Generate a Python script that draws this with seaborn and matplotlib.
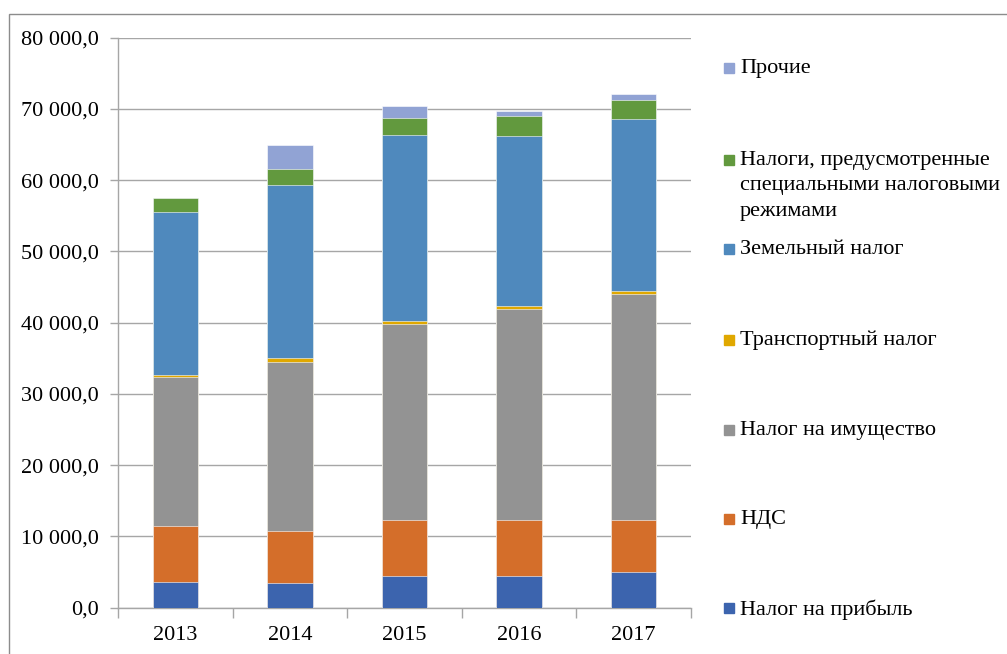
import numpy as np
import pandas as pd
import seaborn as sns
import matplotlib
matplotlib.use("Agg")
import matplotlib.pyplot as plt
from matplotlib.ticker import FuncFormatter, FixedLocator
from matplotlib.patches import Rectangle

years = ["2013", "2014", "2015", "2016", "2017"]

profit = [3650, 3510, 4450, 4450, 5000]
vat = [7810, 7200, 7890, 7890, 7340]
property_tax = [20900, 23790, 27450, 29550, 31700]
transport = [280, 560, 460, 470, 420]
land = [22900, 24220, 26050, 23840, 24040]
special = [1960, 2290, 2420, 2720, 2800]
other = [0, 3280, 1640, 740, 790]

series_names = [
    "Налог на прибыль",
    "НДС",
    "Налог на имущество",
    "Транспортный налог",
    "Земельный налог",
    "Налоги, предусмотренные\nспециальными налоговыми\nрежимами",
    "Прочие",
]
series_values = [profit, vat, property_tax, transport, land, special, other]
colors = ["#3C64AE", "#D46E2A", "#939393", "#E0A800", "#4F89BD", "#62993E", "#91A3D4"]

sns.set_theme(style="white")
plt.rcParams["font.family"] = ["Liberation Serif", "DejaVu Serif"]
FS = 16

df = pd.DataFrame({name: vals for name, vals in zip(series_names, series_values)}, index=years)
cum = df.cumsum(axis=1)

fig = plt.figure(figsize=(10.07, 6.54), dpi=100)
ax = fig.add_axes([118.3 / 1007, 1 - 607.7 / 654, (690.7 - 118.3) / 1007, (607.7 - 37.5) / 654])

# stacked bars: draw cumulative totals from top layer down
for name, col in reversed(list(zip(series_names, colors))):
    d = pd.DataFrame({"year": years, "value": cum[name].values})
    sns.barplot(data=d, x="year", y="value", color=col, width=0.4, ax=ax,
                saturation=1, edgecolor="white", linewidth=0.4, zorder=3)

ax.set_xlim(-0.5, 4.5)
ax.set_ylim(0, 80000)
ax.yaxis.set_major_locator(FixedLocator(np.arange(0, 80001, 10000)))
ax.yaxis.set_major_formatter(FuncFormatter(lambda v, p: f"{v:,.1f}".replace(",", " ").replace(".", ",")))
ax.grid(axis="y", color="#A6A6A6", linewidth=1, zorder=0)
ax.set_axisbelow(True)
ax.set_xlabel("")
ax.set_ylabel("")

for s in ["top", "right"]:
    ax.spines[s].set_visible(False)
for s in ["left", "bottom"]:
    ax.spines[s].set_color("#A6A6A6")
    ax.spines[s].set_linewidth(1)

ax.tick_params(axis="y", which="major", left=True, length=6, width=1, color="#A6A6A6",
               pad=8, labelsize=FS, labelcolor="black")
ax.tick_params(axis="x", which="major", length=0, pad=13, labelsize=FS, labelcolor="black")
ax.xaxis.set_minor_locator(FixedLocator(np.arange(-0.5, 4.6, 1)))
ax.tick_params(axis="x", which="minor", bottom=True, length=7, width=1, color="#A6A6A6", direction="out")

# legend, placed by hand to keep the report's spacing
legend_rows = [68, 160, 249, 340, 430, 519, 608]
for name, col, yp in zip(reversed(series_names), reversed(colors), legend_rows):
    fy = 1 - yp / 654
    fig.patches.append(Rectangle((724 / 1007, fy - 5 / 654), 10 / 1007, 10 / 654,
                                 transform=fig.transFigure, color=col, zorder=5))
    fig.text(740 / 1007, fy + 9 / 654, name, ha="left", va="top", fontsize=FS,
             linespacing=1.45, color="black")

# outer chart frame
fig.patches.append(Rectangle((9.3 / 1007, -0.2), 2, 1.2 - 14.3 / 654, transform=fig.transFigure,
                             fill=False, edgecolor="#8C8C8C", linewidth=1))

fig.savefig("out.png", dpi=100)
